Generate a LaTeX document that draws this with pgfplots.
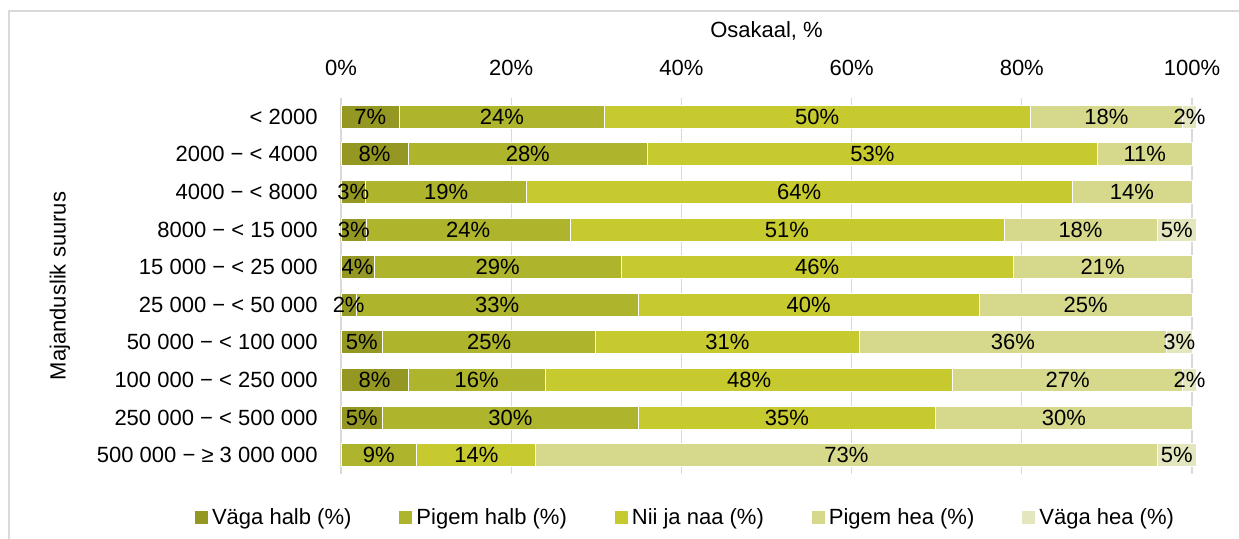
\documentclass[border=0pt]{standalone}
\usepackage{fontspec}
\setmainfont{Liberation Sans}
\usepackage{pgfplots}
\usepackage{pgfplotstable}
\pgfplotsset{compat=1.18}
\definecolor{c1}{RGB}{148,152,34}
\definecolor{c2}{RGB}{174,180,44}
\definecolor{c3}{RGB}{199,202,46}
\definecolor{c4}{RGB}{214,217,139}
\definecolor{c5}{RGB}{228,230,190}
\definecolor{gridc}{RGB}{217,217,217}
\pgfplotstableread{
y a b c d e
0 6.9 24.0 50.1 17.9 1.6
1 7.9 28.1 52.9 11.1 0
2 2.9 18.9 64.1 14.1 0
3 3.0 23.9 51.0 18.0 4.6
4 3.9 29.0 46.1 21.0 0
5 1.8 33.1 40.1 25.0 0
6 4.9 25.0 31.0 36.1 3.0
7 7.9 16.1 47.9 27.0 1.6
8 4.9 30.0 35.0 30.1 0
9 0 8.9 14.0 73.0 4.6
}\data
\newcommand{\ff}{\fontsize{11}{13}\selectfont}
\begin{document}
\begin{tikzpicture}
\useasboundingbox (0,0) rectangle (619.5pt,-269.5pt);
\draw[gridc, line width=0.6pt] (4.5pt,-269.5pt) -- (4.5pt,-5.5pt) -- (619.5pt,-5.5pt);
\begin{axis}[
  at={(170.5pt,-237pt)}, anchor=south west,
  scale only axis, width=425.5pt, height=188pt,
  xbar stacked, bar width=11.5pt,
  xmin=0, xmax=100, ymin=-0.5, ymax=9.5, y dir=reverse,
  clip=false,
  axis line style={draw=none}, major tick length=0pt,
  xtick={0,20,...,100},
  xticklabels={0\%,20\%,40\%,60\%,80\%,100\%},
  xticklabel pos=top,
  xmajorgrids, major grid style={color=gridc, line width=0.6pt},
  ytick={0,...,9},
  yticklabels={{< 2000},{2000 − < 4000},{4000 − < 8000},{8000 − < 15 000},{15 000 − < 25 000},{25 000 − < 50 000},{50 000 − < 100 000},{100 000 − < 250 000},{250 000 − < 500 000},{500 000 − ≥ 3 000 000}},
  xticklabel style={font=\ff, anchor=base, inner sep=0pt, yshift=11pt},
  yticklabel style={font=\ff, anchor=east, inner sep=0pt, xshift=-11.5pt},
  xlabel={Osakaal, \%},
  xlabel style={font=\ff, at={(axis description cs:0.5,1)}, anchor=base, inner sep=0pt, yshift=30pt},
  ylabel={Majanduslik suurus},
  ylabel style={font=\ff, at={(axis description cs:-0.3302,0.5)}, anchor=center},
  every axis plot/.append style={draw=white, line width=0.4pt},
  nodes near coords={\pgfmathfloatifflags{\pgfplotspointmeta}{0}{}{\pgfmathprintnumber[fixed,precision=0,assume math mode=true]{\pgfplotspointmeta}\%}},
  every node near coord/.append style={font=\ff, text=black, anchor=center, inner sep=0pt},
  legend columns=5,
  legend cell align=left,
  legend image code/.code={\fill[#1,draw=none] (0pt,-3.25pt) rectangle (6.5pt,3.25pt);},
  legend style={draw=none, fill=none, font=\ff, at={(axis description cs:0.406,-0.117)}, anchor=center,
    /tikz/every even column/.append style={column sep=22pt}},
]
\addplot[fill=c1] table[x=a, y=y, meta=a] {\data};
\addplot[fill=c2] table[x=b, y=y, meta=b] {\data};
\addplot[fill=c3] table[x=c, y=y, meta=c] {\data};
\addplot[fill=c4] table[x=d, y=y, meta=d] {\data};
\addplot[fill=c5] table[x=e, y=y, meta=e] {\data};
\legend{Väga halb (\%), Pigem halb (\%), Nii ja naa (\%), Pigem hea (\%), Väga hea (\%)}
\end{axis}
\end{tikzpicture}
\end{document}
